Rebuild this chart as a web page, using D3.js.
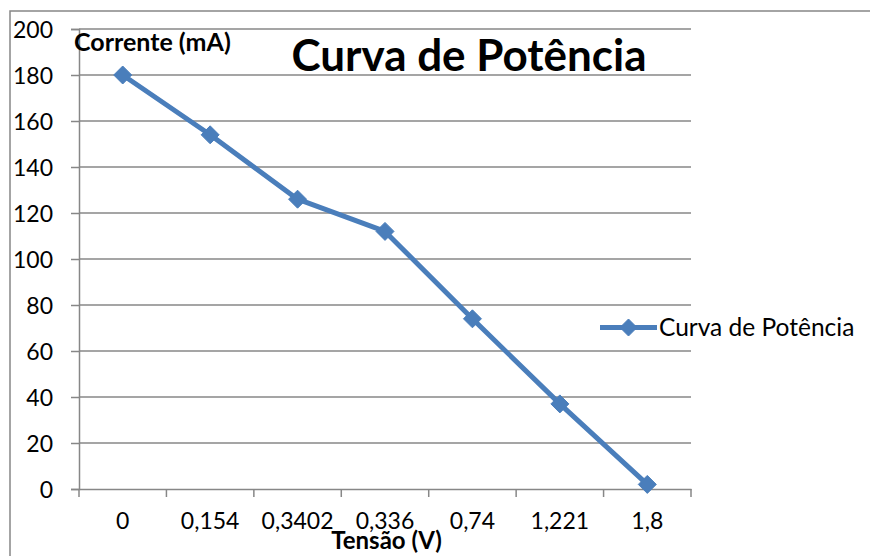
<!DOCTYPE html>
<html>
<head>
<meta charset="utf-8">
<script src="https://cdn.jsdelivr.net/npm/d3@7"></script>
<style>
  html, body { margin: 0; padding: 0; background: #fff; }
  svg { display: block; }
  text { font-family: Lato, "Open Sans", sans-serif; fill: #000; }
</style>
</head>
<body>
<svg id="chart" width="870" height="556"></svg>
<script>
// Tensão (V) categories and measured current (mA)
const categories = ["0", "0,154", "0,3402", "0,336", "0,74", "1,221", "1,8"];
const corrente = [180, 154, 126, 112, 74, 37, 2];
const yTicks = [0, 20, 40, 60, 80, 100, 120, 140, 160, 180, 200];
const seriesName = "Curva de Potência";
const titleText = "Curva de Potência";
const yTitle = "Corrente (mA)";
const xTitle = "Tensão (V)";

const svg = d3.select("#chart");
const blue = "#4a7ebb";
const grey = "#878787";

const plot = { left: 79, right: 691, top: 29, bottom: 489 };

const x = d3.scaleBand().domain(categories).range([plot.left, plot.right]).padding(0);
const y = d3.scaleLinear().domain([0, 200]).range([plot.bottom, plot.top]);

// chart frame
svg.append("rect")
  .attr("x", 10).attr("y", 11)
  .attr("width", 900).attr("height", 600)
  .attr("fill", "#fff").attr("stroke", grey).attr("stroke-width", 1.5);

// horizontal gridlines
svg.append("g").selectAll("line").data(yTicks.filter(d => d > 0)).join("line")
  .attr("x1", plot.left).attr("x2", plot.right)
  .attr("y1", d => y(d)).attr("y2", d => y(d))
  .attr("stroke", grey).attr("stroke-width", 1.5);

// value axis
const yAxis = d3.axisLeft(y).tickValues(yTicks).tickSize(8).tickPadding(18).tickFormat(d3.format("d"));
const gy = svg.append("g").attr("transform", `translate(${plot.left},0)`).call(yAxis);
gy.select(".domain").attr("stroke", grey).attr("stroke-width", 1.5);
gy.selectAll(".tick line").attr("stroke", grey).attr("stroke-width", 1.5);
gy.selectAll(".tick text")
  .style("font-family", "Lato, sans-serif").style("font-size", "23px").attr("fill", "#000")
  .attr("dy", "0.38em");

// category axis
const xAxis = d3.axisBottom(x).tickSize(0).tickPadding(0);
const gx = svg.append("g").attr("transform", `translate(0,${plot.bottom})`).call(xAxis);
gx.select(".domain").attr("stroke", grey).attr("stroke-width", 1.5);
gx.selectAll(".tick text")
  .style("font-family", "Lato, sans-serif").style("font-size", "23px").attr("fill", "#000")
  .attr("y", 40).attr("dy", 0);
// tick marks at category boundaries
const bounds = categories.map(c => x(c)).concat([x.range()[1]]);
gx.append("g").selectAll("line").data(bounds).join("line")
  .attr("x1", d => d).attr("x2", d => d)
  .attr("y1", 0).attr("y2", 8)
  .attr("stroke", grey).attr("stroke-width", 1.5);

// series
const cx = c => x(c) + x.bandwidth() / 2;
const line = d3.line().x((d, i) => cx(categories[i])).y(d => y(d));
svg.append("path").datum(corrente)
  .attr("d", line).attr("fill", "none")
  .attr("stroke", blue).attr("stroke-width", 5).attr("stroke-linejoin", "round");

const diamond = r => `M0,${-r}L${r},0L0,${r}L${-r},0Z`;
svg.append("g").selectAll("path").data(corrente).join("path")
  .attr("transform", (d, i) => `translate(${cx(categories[i])},${y(d)})`)
  .attr("d", diamond(9)).attr("fill", blue).attr("stroke", blue).attr("stroke-width", 1);

// chart title
svg.append("text")
  .attr("x", 469).attr("y", 71).attr("text-anchor", "middle")
  .style("font-weight", "bold").style("font-size", "44px")
  .text(titleText);

// axis titles
svg.append("text")
  .attr("x", 74).attr("y", 50.5)
  .style("font-weight", "bold").style("font-size", "25px")
  .text(yTitle);
svg.append("text")
  .attr("x", 386.5).attr("y", 549).attr("text-anchor", "middle")
  .style("font-weight", "bold").style("font-size", "24px")
  .text(xTitle);

// legend
const lg = svg.append("g").attr("transform", "translate(600,327.5)");
lg.append("line").attr("x1", 0).attr("x2", 57).attr("y1", 0).attr("y2", 0)
  .attr("stroke", blue).attr("stroke-width", 5);
lg.append("path").attr("transform", "translate(28.5,0)").attr("d", diamond(8.5))
  .attr("fill", blue).attr("stroke", blue).attr("stroke-width", 1);
lg.append("text").attr("x", 59).attr("y", 8.5)
  .style("font-size", "24.5px")
  .text(seriesName);
</script>
</body>
</html>
